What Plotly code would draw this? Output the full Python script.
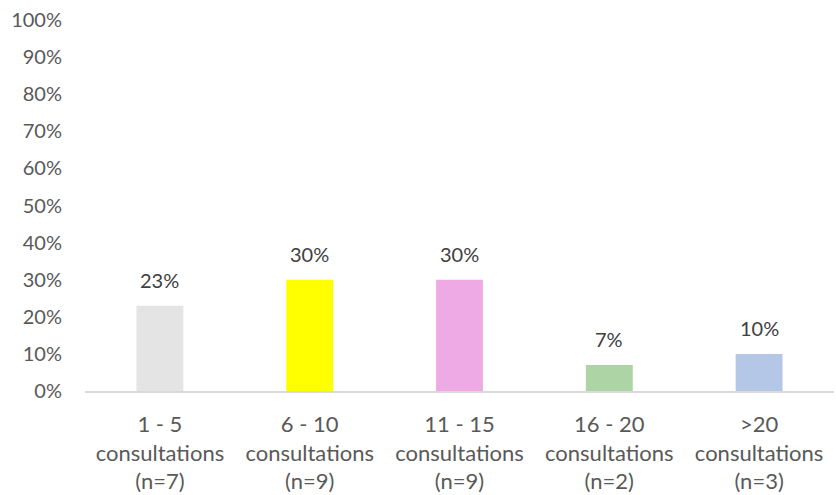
import plotly.graph_objects as go

# Share of respondents by number of consultations
categories = [
    "1 - 5<br>consultations<br>(n=7)",
    "6 - 10<br>consultations<br>(n=9)",
    "11 - 15<br>consultations<br>(n=9)",
    "16 - 20<br>consultations<br>(n=2)",
    ">20<br>consultations<br>(n=3)",
]
shares = [0.23, 0.30, 0.30, 0.07, 0.10]
bar_colors = ["#E4E4E4", "#FFFF00", "#EEAAE4", "#ADD4A5", "#B4C7E7"]
y_ticks = [0, 0.1, 0.2, 0.3, 0.4, 0.5, 0.6, 0.7, 0.8, 0.9, 1.0]

FONT = "Lato, Open Sans, sans-serif"

fig = go.Figure(
    go.Bar(
        x=categories,
        y=shares,
        marker=dict(color=bar_colors, line=dict(width=0)),
        hoverinfo="skip",
    )
)

# Value labels above each bar
for cat, val in zip(categories, shares):
    fig.add_annotation(
        x=cat, y=val, text=f"{val:.0%}", showarrow=False,
        yanchor="bottom", yshift=12,
        font=dict(family=FONT, size=20, color="#404040"),
    )

fig.update_layout(
    width=836, height=495,
    margin=dict(l=85, r=2, t=20, b=104),
    paper_bgcolor="white", plot_bgcolor="white",
    bargap=0.687,
    showlegend=False,
    font=dict(family=FONT, size=20, color="#595959"),
)
fig.update_xaxes(
    showline=True, linecolor="#D9D9D9", linewidth=1.5,
    showgrid=False, ticks="", ticklabelstandoff=13,
    tickfont=dict(family=FONT, size=22, color="#595959"),
)
fig.update_yaxes(
    range=[0, 1], tickvals=y_ticks, tickformat=".0%",
    showgrid=False, zeroline=False, showline=False, ticks="",
    ticklabelstandoff=22,
    tickfont=dict(family=FONT, size=20, color="#595959"),
)

fig.write_html("out.html")
